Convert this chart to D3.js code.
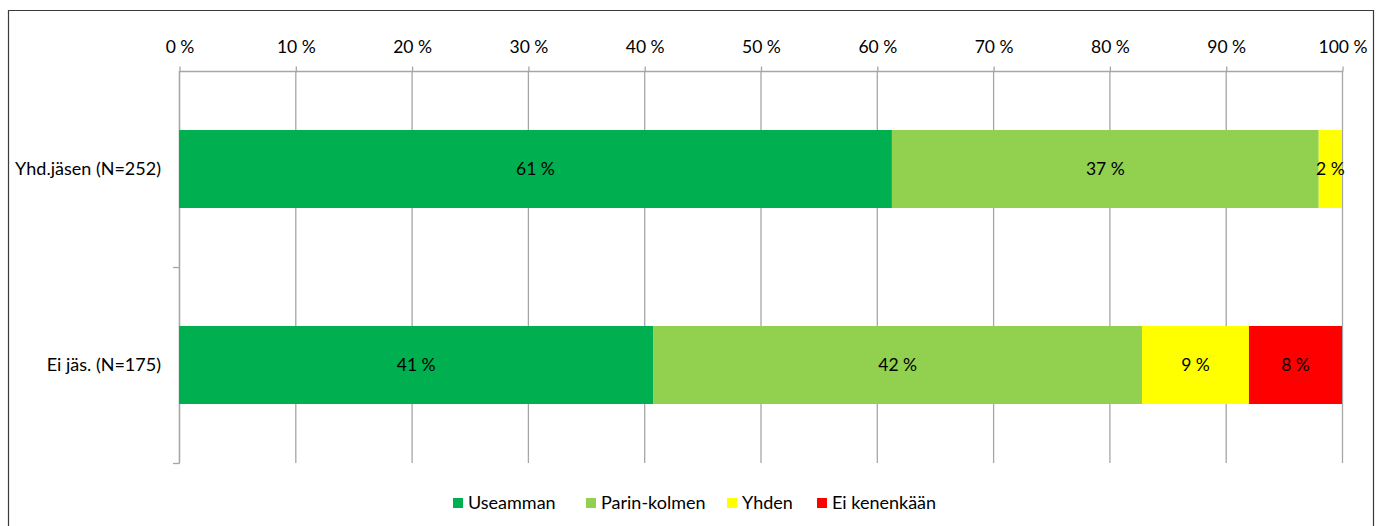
<!DOCTYPE html>
<html><head><meta charset="utf-8">
<script src="https://cdn.jsdelivr.net/npm/d3@7"></script>
<style>body{margin:0;background:#fff}svg{display:block}text{font-family:Lato,"Open Sans",sans-serif;fill:#000}</style>
</head><body><svg id="c" width="1383" height="526"></svg>
<script>
const categories = ["Yhd.jäsen (N=252)", "Ei jäs. (N=175)"];
const seriesNames = ["Useamman", "Parin-kolmen", "Yhden", "Ei kenenkään"];
const useamman = [61.3, 40.8];
const parinKolmen = [36.7, 42.0];
const yhden = [2.0, 9.2];
const eiKenenkaan = [0, 8.0];
const tickValues = [0,10,20,30,40,50,60,70,80,90,100];
const colors = ["#00B050", "#92D050", "#FFFF00", "#FF0000"];

const series = [useamman, parinKolmen, yhden, eiKenenkaan];
const FS = 18;
const svg = d3.select("#c");
// frame
svg.append("path").attr("d","M8.5,526 V10.5 H1373.5 V526").attr("fill","none").attr("stroke","#3a3a3a").attr("stroke-width",1.2);

const x = d3.scaleLinear().domain([0,100]).range([179,1342]);
const y = d3.scaleBand().domain(categories).range([71,463]).paddingInner(0).paddingOuter(0);

const grid = "#a6a6a6";
// gridlines
svg.append("g").selectAll("line").data(tickValues).join("line")
  .attr("x1",d=>x(d)+0.5).attr("x2",d=>x(d)+0.5).attr("y1",71).attr("y2",463)
  .attr("stroke",grid).attr("stroke-width",1.3);

// top axis
const xAxis = d3.axisTop(x).tickValues(tickValues).tickFormat(d=>d+" %").tickSize(5).tickPadding(14);
const gx = svg.append("g").attr("transform","translate(0.5,71.5)").call(xAxis);
gx.select(".domain").attr("stroke",grid).attr("stroke-width",1.3).attr("d","M"+x(0)+",0H"+x(100));
gx.selectAll(".tick line").attr("stroke",grid).attr("stroke-width",1.3);
gx.selectAll("text").attr("font-size",17.5).attr("fill","#000").style("font-family","Lato,'Open Sans',sans-serif");

// left axis
svg.append("line").attr("x1",179.5).attr("x2",179.5).attr("y1",71).attr("y2",463.5).attr("stroke",grid).attr("stroke-width",1.3);
const bounds = [y(categories[0])+y.bandwidth(), 463];
svg.append("g").selectAll("line").data(bounds).join("line")
  .attr("x1",173).attr("x2",179.5).attr("y1",d=>Math.round(d)+0.5).attr("y2",d=>Math.round(d)+0.5)
  .attr("stroke",grid).attr("stroke-width",1.3);
svg.append("g").selectAll("text").data(categories).join("text")
  .attr("x",161).attr("y",d=>y(d)+y.bandwidth()/2).attr("dy","0.35em")
  .attr("text-anchor","end").attr("font-size",FS).text(d=>d);

// bars
const barH = 78;
categories.forEach((cat,i)=>{
  let acc = 0;
  series.forEach((s,j)=>{
    const v = s[i];
    if(v<=0) return;
    const x0 = x(acc), x1 = x(acc+v);
    const yc = y(cat)+y.bandwidth()/2;
    svg.append("rect").attr("x",x0).attr("y",yc-barH/2).attr("width",x1-x0).attr("height",barH).attr("fill",colors[j]);
    svg.append("text").attr("x",(x0+x1)/2).attr("y",yc).attr("dy","0.35em").attr("text-anchor","middle")
      .attr("font-size",17.5).text(Math.round(v)+" %");
    acc += v;
  });
});

// legend
const legX = [453, 586, 727, 817];
const lg = svg.append("g");
seriesNames.forEach((n,i)=>{
  lg.append("rect").attr("x",legX[i]).attr("y",498).attr("width",10).attr("height",10).attr("fill",colors[i]);
  lg.append("text").attr("x",legX[i]+15).attr("y",503).attr("dy","0.35em").attr("font-size",FS).text(n);
});
</script></body></html>
